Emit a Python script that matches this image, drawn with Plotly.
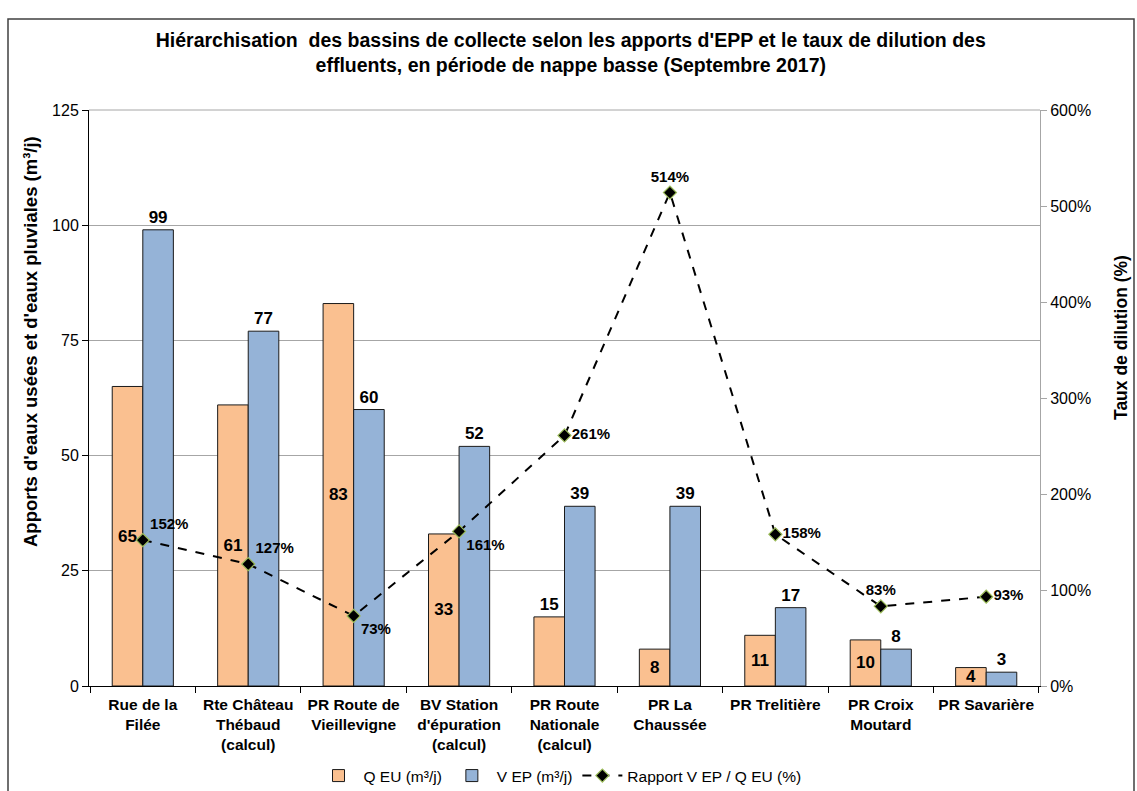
import plotly.graph_objects as go

# Bassins de collecte et apports mesurés
categories = [
    "Rue de la<br>Filée",
    "Rte Château<br>Thébaud<br>(calcul)",
    "PR Route de<br>Vieillevigne",
    "BV Station<br>d'épuration<br>(calcul)",
    "PR Route<br>Nationale<br>(calcul)",
    "PR La<br>Chaussée",
    "PR Trelitière",
    "PR Croix<br>Moutard",
    "PR Savarière",
]
q_eu = [65, 61, 83, 33, 15, 8, 11, 10, 4]          # m³/j
v_ep = [99, 77, 60, 52, 39, 39, 17, 8, 3]          # m³/j
ratio = [152, 127, 73, 161, 261, 514, 158, 83, 93]  # %

y2_ticks = [0, 100, 200, 300, 400, 500, 600]

q_eu_textpos = ["inside", "inside", "inside", "inside", "outside",
                "inside", "inside", "inside", "inside"]
ratio_textpos = ["top right", "top right", "bottom right", "bottom right",
                 "middle right", "top center", "middle right", "top center",
                 "middle right"]

FONT = "Liberation Sans, Arial, sans-serif"
W, H = 1137, 791
L, R, T, B = 89, 1040, 110, 686

def px_x(px):
    return (px - L) / (R - L)

def px_y(py):
    return (B - py) / (B - T)

fig = go.Figure()

fig.add_trace(go.Bar(
    x=categories, y=q_eu, name="Q EU (m³/j)",
    marker=dict(color="#FAC090", line=dict(color="#1a1a1a", width=1)),
    text=q_eu, texttemplate="%{text}", textposition=q_eu_textpos,
    insidetextanchor="middle", constraintext="none", textangle=0,
    textfont=dict(family=FONT, size=17, color="black", weight="bold"),
    cliponaxis=False,
))
fig.add_trace(go.Bar(
    x=categories, y=v_ep, name="V EP (m³/j)",
    marker=dict(color="#95B3D7", line=dict(color="#1a1a1a", width=1)),
    text=v_ep, texttemplate="%{text}", textposition="outside",
    constraintext="none", textangle=0,
    textfont=dict(family=FONT, size=17, color="black", weight="bold"),
    cliponaxis=False,
))
fig.add_trace(go.Scatter(
    x=categories, y=ratio, name="Rapport V EP / Q EU (%)", yaxis="y2",
    mode="lines+markers+text",
    line=dict(color="black", width=2, dash="dash"),
    marker=dict(symbol="diamond", size=10, color="black",
                line=dict(color="#9BBB59", width=1.2)),
    text=[f"{v}%" for v in ratio], textposition=ratio_textpos,
    textfont=dict(family=FONT, size=15, color="black", weight="bold"),
    cliponaxis=False,
))

fig.update_layout(
    width=W, height=H,
    margin=dict(l=L, r=W - R, t=T, b=H - B, autoexpand=False),
    paper_bgcolor="white", plot_bgcolor="white",
    font=dict(family=FONT, size=15, color="black"),
    barmode="group", bargap=0.42, bargroupgap=0,
    showlegend=True,
    title=dict(
        text="Hiérarchisation  des bassins de collecte selon les apports d'EPP et le taux de dilution des<br>effluents, en période de nappe basse (Septembre 2017)",
        x=0.502, xanchor="center", y=1 - 47 / H, yanchor="top",
        font=dict(family=FONT, size=19.5, color="black", weight="bold"),
    ),
    legend=dict(
        orientation="h", x=px_x(560), xanchor="center",
        y=px_y(759), yanchor="top",
        font=dict(family=FONT, size=15.5, color="black"),
        traceorder="normal", itemwidth=40,
    ),
    xaxis=dict(
        type="category",
        showline=True, linecolor="black", linewidth=1,
        ticks="outside", tickson="boundaries", ticklen=6, tickcolor="black",
        ticklabelstandoff=4,
        tickfont=dict(family=FONT, size=15.5, color="black", weight="bold"),
        showgrid=False,
    ),
    yaxis=dict(
        range=[0, 125], tickvals=[0, 25, 50, 75, 100, 125],
        showline=True, linecolor="black", linewidth=1,
        ticks="outside", ticklen=6, tickcolor="black",
        showgrid=True, gridcolor="#A6A6A6", gridwidth=1,
        tickfont=dict(family=FONT, size=16, color="black"),
        zeroline=False,
    ),
    yaxis2=dict(
        overlaying="y", side="right",
        range=[0, 600], tickvals=y2_ticks,
        ticktext=[f"{v}%" for v in y2_ticks],
        showline=True, linecolor="#A6A6A6", linewidth=1,
        ticks="outside", ticklen=6, tickcolor="#A6A6A6",
        showgrid=False, zeroline=False,
        tickfont=dict(family=FONT, size=16, color="black"),
    ),
)

# Axis titles
fig.add_annotation(
    text="Apports d'eaux usées et d'eaux pluviales (m³/j)",
    xref="paper", yref="paper", x=px_x(30), y=px_y(342),
    xanchor="center", yanchor="middle", textangle=-90, showarrow=False,
    font=dict(family=FONT, size=18.5, color="black", weight="bold"),
)
fig.add_annotation(
    text="Taux de dilution (%)",
    xref="paper", yref="paper", x=px_x(1121), y=px_y(338),
    xanchor="center", yanchor="middle", textangle=-90, showarrow=False,
    font=dict(family=FONT, size=17.5, color="black", weight="bold"),
)

# Top edge of the plot area
fig.add_shape(
    type="line", xref="paper", yref="paper", x0=0, x1=1, y0=1, y1=1,
    line=dict(color="#A6A6A6", width=1), layer="below",
)

# Chart frame
fig.add_shape(
    type="rect", xref="paper", yref="paper",
    x0=px_x(8), x1=px_x(1134), y0=px_y(805), y1=px_y(19),
    line=dict(color="#404040", width=1.5), fillcolor="rgba(0,0,0,0)",
    layer="below",
)

fig.write_html("out.html")
